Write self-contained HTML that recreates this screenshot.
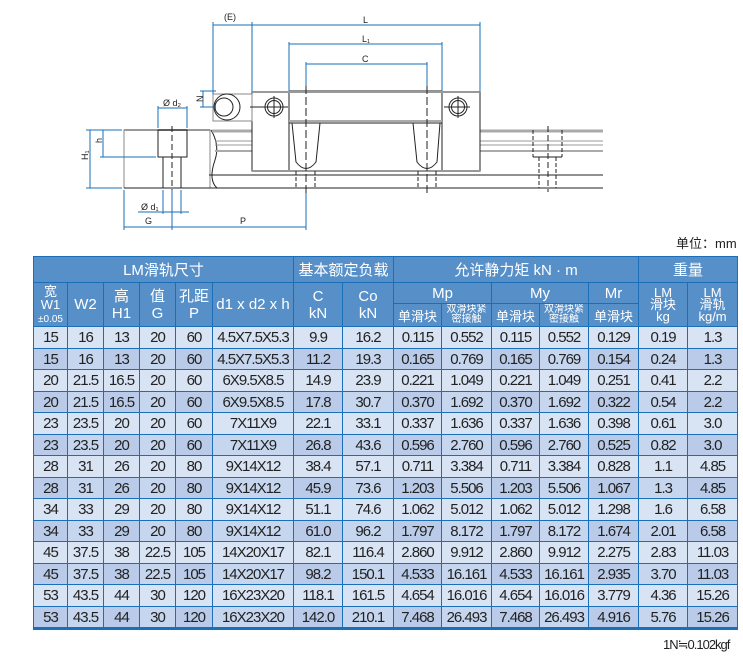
<!DOCTYPE html>
<html><head><meta charset="utf-8"><style>
body{margin:0;width:743px;height:668px;background:#fff;position:relative;overflow:hidden;font-family:"Liberation Sans","Noto Sans CJK SC",sans-serif;}
svg{position:absolute;left:0;top:0}
table{position:absolute;left:33px;top:256px;border-collapse:collapse;table-layout:fixed;width:704px;border-bottom:3px solid #1a6fb8}
td{border:1px solid #1a6fb8;text-align:center;padding:0;font-size:15px;color:#222;letter-spacing:-1px;white-space:nowrap;overflow:hidden}
tr.h td{background:#5790c9;color:#fff;letter-spacing:0}
tr.a td{background:#d8e3f4}
tr.b td{background:#b9cbe8}
tr.b td:nth-child(2n){background:#c6d6ee}
.s{font-size:10px;line-height:10px}
.u{position:absolute;font-size:13px;color:#222}
</style></head><body>
<svg width="743" height="250" viewBox="0 0 743 250">
<g fill="none" stroke="#222" stroke-width="1">
<!-- left rail section -->
<rect x="124" y="130" width="86" height="58" stroke="#888"/>
<line x1="124" y1="130" x2="210" y2="130" stroke="#999" stroke-width="2"/>
<rect x="158" y="130" width="29" height="27"/>
<line x1="163" y1="157" x2="163" y2="188"/><line x1="181" y1="157" x2="181" y2="188"/>
<line x1="172" y1="126" x2="172" y2="190" stroke-dasharray="6,3"/>
<line x1="124" y1="188" x2="603" y2="188"/>
<!-- broken rail edge -->
<path d="M211 130 Q220 145 215 160 Q208 180 217 188"/>
<line x1="212" y1="131" x2="603" y2="131" stroke="#aaa" stroke-width="3"/>
<line x1="215" y1="141" x2="603" y2="141" stroke="#999"/>
<line x1="215" y1="145" x2="603" y2="145" stroke="#999"/>
<line x1="215" y1="151" x2="603" y2="151" stroke="#aaa" stroke-width="2"/>
<line x1="209" y1="175" x2="603" y2="175"/>
<!-- block -->
<rect x="252" y="92" width="228" height="79" fill="#fff"/>
<rect x="289" y="91" width="153" height="80" fill="#fff"/>
<line x1="289" y1="121" x2="442" y2="121" stroke="#aaa" stroke-width="2"/>
<line x1="289" y1="123" x2="442" y2="123"/>
<path d="M292 123 L296 162 Q306 175 316 162 L320 123"/>
<path d="M413 123 L417 162 Q427 175 437 162 L440 123"/>
<line x1="252" y1="92" x2="480" y2="92" stroke="#999" stroke-width="2"/>
<line x1="252" y1="171" x2="480" y2="171" stroke="#999" stroke-width="2"/>
<!-- seal -->
<rect x="213" y="94" width="39" height="27" stroke="#888"/>
<circle cx="227" cy="107" r="13" fill="#fff"/><circle cx="224" cy="107" r="9" fill="#fff"/>
<circle cx="274" cy="107" r="9"/><circle cx="274" cy="107" r="6.5"/>
<circle cx="458" cy="107" r="9"/><circle cx="458" cy="107" r="6.5"/>
<line x1="250" y1="107" x2="288" y2="107"/><line x1="274" y1="96" x2="274" y2="118"/>
<line x1="444" y1="107" x2="470" y2="107"/><line x1="458" y1="96" x2="458" y2="118"/>
<line x1="306" y1="86" x2="306" y2="193" stroke-dasharray="8,3"/>
<line x1="427" y1="86" x2="427" y2="193" stroke-dasharray="8,3"/>
<line x1="296" y1="171" x2="296" y2="188" stroke-dasharray="4,2"/><line x1="315" y1="171" x2="315" y2="188" stroke-dasharray="4,2"/>
<line x1="418" y1="171" x2="418" y2="188" stroke-dasharray="4,2"/><line x1="436" y1="171" x2="436" y2="188" stroke-dasharray="4,2"/>
<!-- right rail hole -->
<line x1="533" y1="130" x2="533" y2="157" stroke-dasharray="4,2"/><line x1="562" y1="130" x2="562" y2="157" stroke-dasharray="4,2"/>
<line x1="533" y1="157" x2="562" y2="157"/>
<line x1="539" y1="157" x2="539" y2="188" stroke-dasharray="4,2"/><line x1="556" y1="157" x2="556" y2="188" stroke-dasharray="4,2"/>
<line x1="548" y1="126" x2="548" y2="192" stroke-dasharray="6,3"/>
</g>
<g stroke="#1a6fb8" stroke-width="1" fill="none">
<line x1="213" y1="22" x2="213" y2="94"/><line x1="252" y1="22" x2="252" y2="92"/><line x1="480" y1="22" x2="480" y2="92"/>
<line x1="213" y1="25" x2="252" y2="25"/><line x1="252" y1="25" x2="480" y2="25"/>
<line x1="289" y1="42" x2="289" y2="91"/><line x1="442" y1="42" x2="442" y2="91"/><line x1="289" y1="44" x2="442" y2="44"/>
<line x1="306" y1="62" x2="306" y2="86"/><line x1="427" y1="62" x2="427" y2="86"/><line x1="306" y1="64" x2="427" y2="64"/>
<line x1="200" y1="91" x2="216" y2="91"/><line x1="200" y1="107" x2="216" y2="107"/><line x1="203" y1="91" x2="203" y2="107"/>
<line x1="158" y1="106" x2="158" y2="128"/><line x1="187" y1="106" x2="187" y2="128"/><line x1="158" y1="108" x2="187" y2="108"/>
<line x1="86" y1="130" x2="122" y2="130"/><line x1="86" y1="188" x2="122" y2="188"/><line x1="90" y1="130" x2="90" y2="188"/>
<line x1="100" y1="157" x2="156" y2="157"/><line x1="103" y1="130" x2="103" y2="157"/>
<line x1="124" y1="190" x2="124" y2="230"/><line x1="172" y1="190" x2="172" y2="230"/><line x1="306" y1="193" x2="306" y2="230"/>
<line x1="124" y1="227" x2="306" y2="227"/>
<line x1="138" y1="212" x2="189" y2="212"/><line x1="163" y1="190" x2="163" y2="214"/><line x1="181" y1="190" x2="181" y2="214"/>
</g>
<g font-family="Liberation Sans" font-size="9" fill="#222">
<text x="224" y="20">(E)</text><text x="363" y="23">L</text><text x="362" y="42">L₁</text><text x="362" y="62">C</text>
<text x="196" y="103" transform="rotate(-90 199 99)">N</text>
<text x="163" y="106">Ø d₂</text><text x="86" y="162" transform="rotate(-90 86 160)">H₁</text>
<text x="99" y="146" transform="rotate(-90 99 143)">h</text>
<text x="141" y="210">Ø d₁</text><text x="145" y="224">G</text><text x="240" y="224">P</text>
</g>
</svg>
<div class="u" style="left:676px;top:233px">单位：mm</div>
<table>
<colgroup><col style="width:34px"><col style="width:36px"><col style="width:36px"><col style="width:36px"><col style="width:37px"><col style="width:81px"><col style="width:49px"><col style="width:51px"><col style="width:48px"><col style="width:50px"><col style="width:48px"><col style="width:49px"><col style="width:50px"><col style="width:49px"><col style="width:50px"></colgroup>
<tr class="h" style="height:26px"><td colspan="6">LM滑轨尺寸</td><td colspan="2">基本额定负载</td><td colspan="5">允许静力矩 kN · m</td><td colspan="2">重量</td></tr>
<tr class="h" style="height:21px"><td rowspan="2" style="font-size:13px;line-height:13px">宽<br>W1<br><span class="s">±0.05</span></td><td rowspan="2">W2</td><td rowspan="2" style="line-height:17px">高<br>H1</td><td rowspan="2" style="line-height:17px">值<br>G</td><td rowspan="2" style="line-height:17px">孔距<br>P</td><td rowspan="2">d1 x d2 x h</td><td rowspan="2" style="line-height:17px">C<br>kN</td><td rowspan="2" style="line-height:17px">Co<br>kN</td><td colspan="2">Mp</td><td colspan="2">My</td><td>Mr</td><td rowspan="2" style="font-size:13px;line-height:12px">LM<br>滑块<br>kg</td><td rowspan="2" style="font-size:13px;line-height:12px">LM<br>滑轨<br>kg/m</td></tr>
<tr class="h" style="height:23px"><td style="font-size:13px">单滑块</td><td class="s">双滑块紧<br>密接触</td><td style="font-size:13px">单滑块</td><td class="s">双滑块紧<br>密接触</td><td style="font-size:13px">单滑块</td></tr>
<tr class="a" style="height:22px"><td>15</td><td>16</td><td>13</td><td>20</td><td>60</td><td>4.5X7.5X5.3</td><td>9.9</td><td>16.2</td><td>0.115</td><td>0.552</td><td>0.115</td><td>0.552</td><td>0.129</td><td>0.19</td><td>1.3</td></tr>
<tr class="b" style="height:21px"><td>15</td><td>16</td><td>13</td><td>20</td><td>60</td><td>4.5X7.5X5.3</td><td>11.2</td><td>19.3</td><td>0.165</td><td>0.769</td><td>0.165</td><td>0.769</td><td>0.154</td><td>0.24</td><td>1.3</td></tr>
<tr class="a" style="height:22px"><td>20</td><td>21.5</td><td>16.5</td><td>20</td><td>60</td><td>6X9.5X8.5</td><td>14.9</td><td>23.9</td><td>0.221</td><td>1.049</td><td>0.221</td><td>1.049</td><td>0.251</td><td>0.41</td><td>2.2</td></tr>
<tr class="b" style="height:21px"><td>20</td><td>21.5</td><td>16.5</td><td>20</td><td>60</td><td>6X9.5X8.5</td><td>17.8</td><td>30.7</td><td>0.370</td><td>1.692</td><td>0.370</td><td>1.692</td><td>0.322</td><td>0.54</td><td>2.2</td></tr>
<tr class="a" style="height:22px"><td>23</td><td>23.5</td><td>20</td><td>20</td><td>60</td><td>7X11X9</td><td>22.1</td><td>33.1</td><td>0.337</td><td>1.636</td><td>0.337</td><td>1.636</td><td>0.398</td><td>0.61</td><td>3.0</td></tr>
<tr class="b" style="height:21px"><td>23</td><td>23.5</td><td>20</td><td>20</td><td>60</td><td>7X11X9</td><td>26.8</td><td>43.6</td><td>0.596</td><td>2.760</td><td>0.596</td><td>2.760</td><td>0.525</td><td>0.82</td><td>3.0</td></tr>
<tr class="a" style="height:22px"><td>28</td><td>31</td><td>26</td><td>20</td><td>80</td><td>9X14X12</td><td>38.4</td><td>57.1</td><td>0.711</td><td>3.384</td><td>0.711</td><td>3.384</td><td>0.828</td><td>1.1</td><td>4.85</td></tr>
<tr class="b" style="height:21px"><td>28</td><td>31</td><td>26</td><td>20</td><td>80</td><td>9X14X12</td><td>45.9</td><td>73.6</td><td>1.203</td><td>5.506</td><td>1.203</td><td>5.506</td><td>1.067</td><td>1.3</td><td>4.85</td></tr>
<tr class="a" style="height:22px"><td>34</td><td>33</td><td>29</td><td>20</td><td>80</td><td>9X14X12</td><td>51.1</td><td>74.6</td><td>1.062</td><td>5.012</td><td>1.062</td><td>5.012</td><td>1.298</td><td>1.6</td><td>6.58</td></tr>
<tr class="b" style="height:21px"><td>34</td><td>33</td><td>29</td><td>20</td><td>80</td><td>9X14X12</td><td>61.0</td><td>96.2</td><td>1.797</td><td>8.172</td><td>1.797</td><td>8.172</td><td>1.674</td><td>2.01</td><td>6.58</td></tr>
<tr class="a" style="height:22px"><td>45</td><td>37.5</td><td>38</td><td>22.5</td><td>105</td><td>14X20X17</td><td>82.1</td><td>116.4</td><td>2.860</td><td>9.912</td><td>2.860</td><td>9.912</td><td>2.275</td><td>2.83</td><td>11.03</td></tr>
<tr class="b" style="height:21px"><td>45</td><td>37.5</td><td>38</td><td>22.5</td><td>105</td><td>14X20X17</td><td>98.2</td><td>150.1</td><td>4.533</td><td>16.161</td><td>4.533</td><td>16.161</td><td>2.935</td><td>3.70</td><td>11.03</td></tr>
<tr class="a" style="height:22px"><td>53</td><td>43.5</td><td>44</td><td>30</td><td>120</td><td>16X23X20</td><td>118.1</td><td>161.5</td><td>4.654</td><td>16.016</td><td>4.654</td><td>16.016</td><td>3.779</td><td>4.36</td><td>15.26</td></tr>
<tr class="b" style="height:22px"><td>53</td><td>43.5</td><td>44</td><td>30</td><td>120</td><td>16X23X20</td><td>142.0</td><td>210.1</td><td>7.468</td><td>26.493</td><td>7.468</td><td>26.493</td><td>4.916</td><td>5.76</td><td>15.26</td></tr>
</table>
<div class="u" style="left:663px;top:637px;letter-spacing:-1px">1N≒0.102kgf</div>
</body></html>
